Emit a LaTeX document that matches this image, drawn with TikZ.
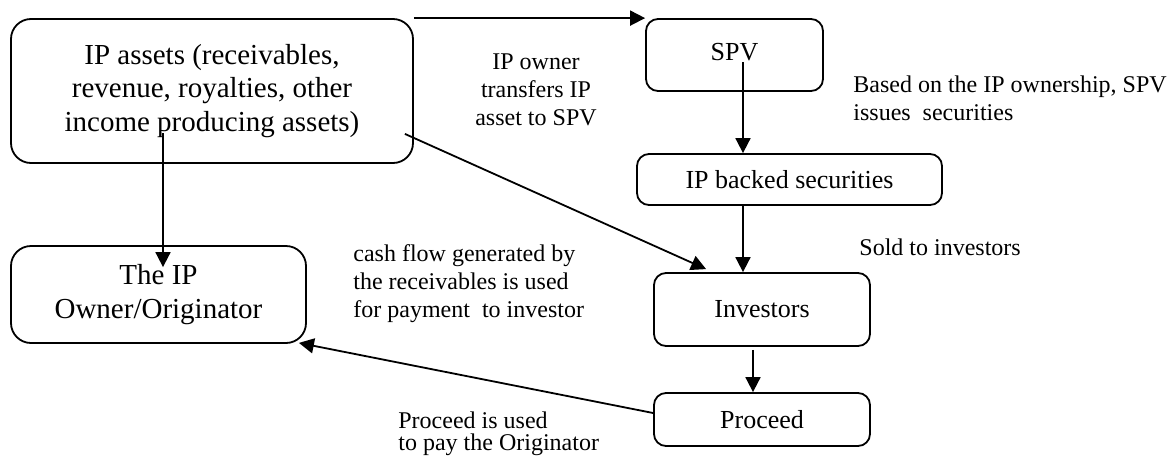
\documentclass[tikz,border=0pt]{standalone}
\usepackage{fontspec}
\setmainfont{Liberation Serif}
\usetikzlibrary{arrows.meta,calc}
\newcommand{\drawarrow}{\draw[line width=0.9pt,-{Triangle[length=7.5pt,width=7.5pt]}]}
\tikzset{
  box/.style={draw,line width=0.9pt,rounded corners=6pt,align=center,inner sep=0pt,font=\fontsize{13}{15.5}\selectfont},
  bigbox/.style={box,rounded corners=10pt,font=\fontsize{14.5}{16.8}\selectfont},
  note/.style={align=left,inner sep=0pt,font=\fontsize{12}{14}\selectfont}
}
\begin{document}
\begin{tikzpicture}[x=0.5pt,y=-0.5pt]
\useasboundingbox (0,0) rectangle (1173,461);
\node[bigbox,minimum width=201pt,minimum height=72pt] (assets) at (212,91) {IP assets (receivables,\\revenue, royalties, other\\income producing assets)};
\node[box,minimum width=88.5pt,minimum height=36pt] (spv) at (734.5,55) {\raisebox{3pt}{SPV}};
\node[box,minimum width=152.5pt,minimum height=25.5pt] (secur) at (789.5,179.5) {IP backed securities};
\node[box,minimum width=108pt,minimum height=36.5pt] (inv) at (762,309.5) {Investors};
\node[box,minimum width=108pt,minimum height=26.5pt] (proc) at (762,419.5) {Proceed};
\node[bigbox,minimum width=147.5pt,minimum height=48.5pt] (owner) at (158.5,294.5) {The IP\\Owner/Originator};
\node[note,align=center] (transfer) at (536,90) {IP owner\\transfers IP\\asset to SPV};
\node[note,anchor=west] (issue) at (853,98) {Based on the IP ownership, SPV\\issues\ \ securities};
\node[note,anchor=west] (sold) at (859,247) {Sold to investors};
\node[note,anchor=west] (cash) at (353,284) {cash flow generated by\\the receivables is used\\for payment\ \ to investor};
\node[note,anchor=west,font=\fontsize{12}{11}\selectfont] (pay) at (398,434) {Proceed is used\\to pay the Originator};
\coordinate (s1) at ($(spv.center)+(8.5,7)$);
\coordinate (i1) at ($(inv.south)+(-9,3)$);
\coordinate (a1) at ($(assets.center)+(-49,42)$);
\drawarrow (assets.north east) -- (spv.north west);
\drawarrow (s1) -- (s1 |- secur.north);
\drawarrow (s1 |- secur.south) -- (s1 |- inv.north);
\drawarrow (i1) -- (i1 |- proc.north);
\drawarrow (a1) -- ($(a1 |- owner.north)+(0,22)$);
\drawarrow ($(assets.south east)+(-9,-30)$) -- ($(inv.north west)+(53,-3)$);
\drawarrow ($(proc.west)+(0,-6.5)$) -- ($(owner.south east)+(-8,-1)$);
\end{tikzpicture}
\end{document}
